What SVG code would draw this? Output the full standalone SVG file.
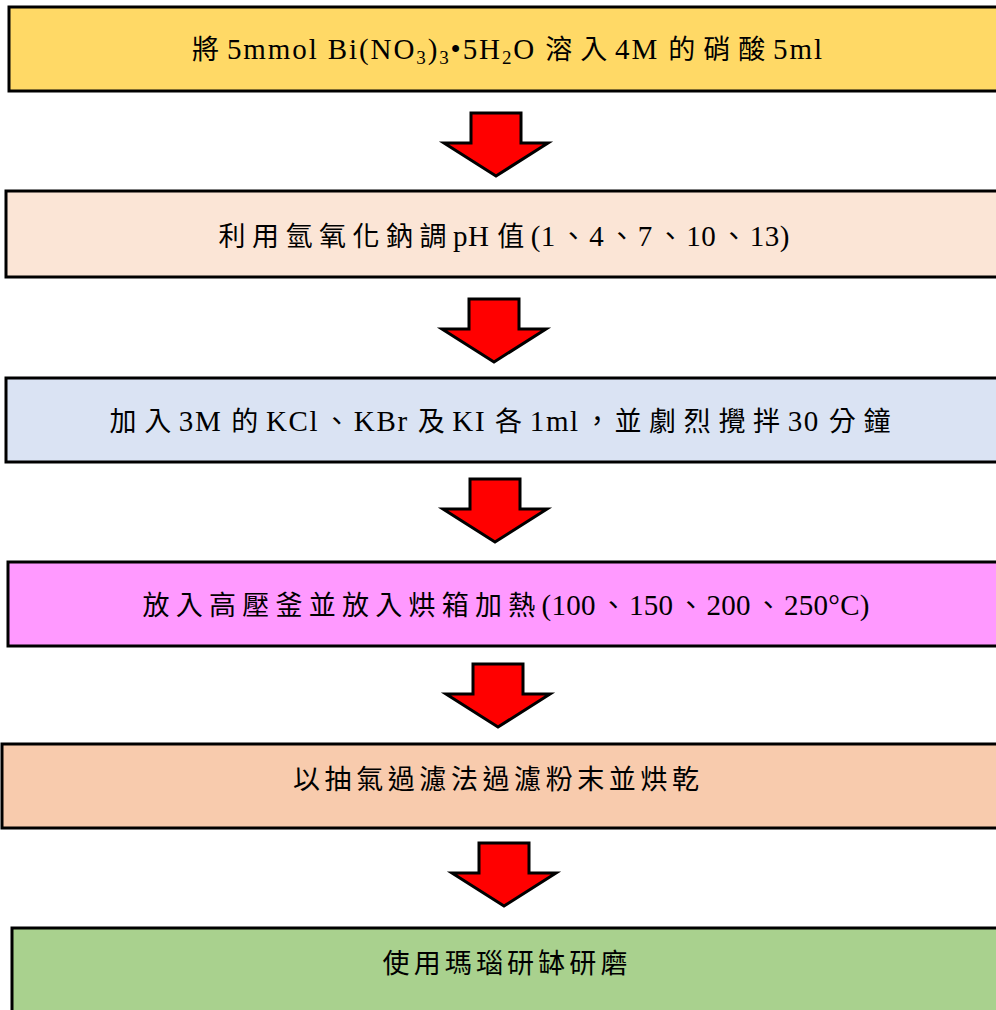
<svg xmlns="http://www.w3.org/2000/svg" width="996" height="1010" viewBox="0 0 996 1010" xml:lang="zh-TW" lang="zh-TW">
<style>
.box{stroke:#000;stroke-width:3}
.t{font-family:"Liberation Serif","Noto Sans CJK TC",serif;font-size:29px;fill:#000;text-anchor:middle}
.c{font-family:"Noto Sans CJK TC","Liberation Serif",serif;font-size:27px;letter-spacing:6px}
.p{font-family:"Noto Sans CJK TC","Liberation Serif",serif;font-size:27px;letter-spacing:2px}
.arr{fill:#FF0000;stroke:#000;stroke-width:3;stroke-linejoin:miter}
</style>
<defs>
<path id="arrow" d="M-25,0 H25 V30 H52 L0,63 L-52,30 H-25 Z"/>
</defs>
<rect width="996" height="1010" fill="#fff"/>
<g id="n1">
<rect class="box" x="9" y="7" width="1000" height="84" fill="#FFD966"/>
<text class="t" x="507" y="59" textLength="630" lengthAdjust="spacing"><tspan class="c">將</tspan>5mmol Bi(NO<tspan font-size="19" dy="5">3</tspan><tspan dy="-5">)</tspan><tspan font-size="19" dy="5">3</tspan><tspan dy="-5">•5H</tspan><tspan font-size="19" dy="5">2</tspan><tspan dy="-5">O </tspan><tspan class="c">溶入</tspan>4M <tspan class="c">的硝酸</tspan>5ml</text>
</g>
<g id="n2">
<rect class="box" x="6" y="191" width="1000" height="86" fill="#FBE5D6"/>
<text class="t" x="504" y="246" textLength="571" lengthAdjust="spacing"><tspan class="c">利用氫氧化鈉調</tspan>pH <tspan class="c">值</tspan>(1<tspan class="p" dx="4">、</tspan>4<tspan class="p" dx="4">、</tspan>7<tspan class="p" dx="4">、</tspan>10<tspan class="p" dx="4">、</tspan>13)</text>
</g>
<g id="n3">
<rect class="box" x="6" y="378" width="1000" height="84" fill="#DAE3F3"/>
<text class="t" x="503" y="431" textLength="787" lengthAdjust="spacing"><tspan class="c">加入</tspan>3M <tspan class="c">的</tspan>KCl<tspan class="p" dx="4">、</tspan>KBr <tspan class="c">及</tspan>KI <tspan class="c">各</tspan>1ml<tspan class="p" dx="4">，</tspan><tspan class="c">並劇烈攪拌</tspan>30 <tspan class="c">分鐘</tspan></text>
</g>
<g id="n4">
<rect class="box" x="8" y="562" width="1000" height="84" fill="#FF99FF"/>
<text class="t" x="506" y="615" textLength="727" lengthAdjust="spacing"><tspan class="c">放入高壓釜並放入烘箱加熱</tspan>(100<tspan class="p" dx="4">、</tspan>150<tspan class="p" dx="4">、</tspan>200<tspan class="p" dx="4">、</tspan>250°C)</text>
</g>
<g id="n5">
<rect class="box" x="2" y="744" width="1000" height="84" fill="#F8CBAD"/>
<text class="t" x="499" y="789" textLength="412" lengthAdjust="spacing"><tspan class="c">以抽氣過濾法過濾粉末並烘乾</tspan></text>
</g>
<g id="n6">
<rect class="box" x="12" y="928" width="1000" height="100" fill="#A9D18E"/>
<text class="t" x="508" y="973" textLength="251" lengthAdjust="spacing"><tspan class="c">使用瑪瑙研缽研磨</tspan></text>
</g>
<g id="connectors">
<use href="#arrow" class="arr" transform="translate(496,113)"/>
<use href="#arrow" class="arr" transform="translate(494,299)"/>
<use href="#arrow" class="arr" transform="translate(495,479)"/>
<use href="#arrow" class="arr" transform="translate(498,664)"/>
<use href="#arrow" class="arr" transform="translate(504,843)"/>
</g>
</svg>
